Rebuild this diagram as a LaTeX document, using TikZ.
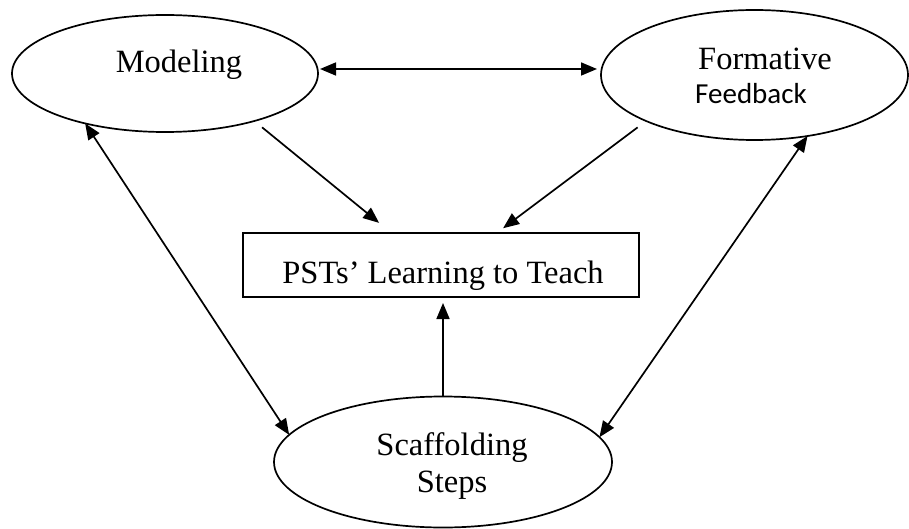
\documentclass[tikz,border=0pt]{standalone}
\usepackage{fontspec}
\setmainfont{Liberation Serif}
\newfontfamily\calfont{Carlito}
\usetikzlibrary{arrows.meta,shapes.geometric}
\begin{document}
\begin{tikzpicture}[x=1pt,y=-1pt,
  oval/.style={draw,ellipse,line width=1.7pt,inner sep=0pt,outer sep=0pt},
  box/.style={draw,rectangle,line width=1.7pt,inner sep=0pt,outer sep=0pt},
  lbl/.style={anchor=base,inner sep=0pt,font=\fontsize{32.5}{36}\selectfont},
  lblsans/.style={anchor=base,inner sep=0pt,font=\calfont\fontsize{29}{34}\selectfont},
  conn/.style={line width=1.7pt},
  tip/.style={-{Triangle[length=16pt,width=13pt]}},
  tips/.style={{Triangle[length=16pt,width=13pt]}-{Triangle[length=16pt,width=13pt]}}]
\useasboundingbox (0,0) rectangle (909,529);
% shapes
\node[oval,minimum width=306pt,minimum height=117pt] (mod) at (165,73.5) {};
\node[oval,minimum width=307pt,minimum height=130pt] (form) at (754.5,75) {};
\node[oval,minimum width=338pt,minimum height=131pt] (scaf) at (443,462) {};
\node[box,minimum width=396pt,minimum height=64pt] (rect) at (441,265) {};
% texts
\node[lbl] (tmod) at (179,73) {Modeling};
\node[lbl] (tform) at (765,70) {Formative};
\node[lblsans] (tfeed) at (751,104) {Feedback};
\node[lbl] (trect) at (443,283) {PSTs’ Learning to Teach};
\node[lbl] (tscaf) at (452,455) {Scaffolding};
\node[lbl] (tsteps) at (452,492) {Steps};
% connectors
\draw[conn,tips,shorten <=2pt,shorten >=4pt] ([yshift=4.5pt]mod.east) -- ([yshift=6pt]form.west);
\draw[conn,tip,shorten <=10pt,shorten >=16pt] (mod.-28.7) -- ([xshift=148.5pt]rect.north west);
\draw[conn,tip,shorten <=10.6pt,shorten >=8pt] (form.203.4) -- ([xshift=253.7pt]rect.north west);
\draw[conn,tip,shorten >=6pt] (scaf.north) -- (scaf.north |- rect.south);
\draw[conn,tips] (mod.-148.3) -- (scaf.170.8);
\draw[conn,tips] (form.-49.1) -- (scaf.9.0);
\end{tikzpicture}
\end{document}
